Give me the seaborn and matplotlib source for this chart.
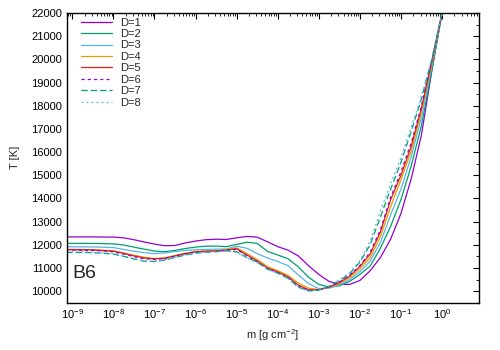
import numpy as np
import pandas as pd
import matplotlib
matplotlib.use("Agg")
import matplotlib.pyplot as plt
from matplotlib.ticker import FixedLocator, LogLocator, MultipleLocator, NullFormatter
import seaborn as sns

# log10 of column mass m [g cm^-2]
log_m = [-9.15, -8.5, -8.0, -7.75, -7.5, -7.25, -7.0, -6.75, -6.5, -6.25, -6.0,
         -5.75, -5.5, -5.25, -5.0, -4.75, -4.5, -4.25, -4.0, -3.75, -3.5, -3.25,
         -3.0, -2.75, -2.5, -2.25, -2.0, -1.75, -1.5, -1.25, -1.0, -0.75, -0.5,
         -0.25, 0.0, 0.1]

T_D1 = [12340, 12340, 12330, 12300, 12220, 12120, 12030, 11960, 11970, 12080, 12160,
        12220, 12240, 12230, 12300, 12360, 12330, 12130, 11920, 11770, 11520, 11100,
        10720, 10420, 10300, 10290, 10460, 10880, 11450, 12250, 13350, 14850, 16750,
        19500, 22000, 23000]
T_D2 = [12060, 12060, 12040, 11990, 11900, 11810, 11730, 11700, 11760, 11840, 11900,
        11940, 11945, 11920, 12020, 12110, 12060, 11720, 11560, 11400, 11050, 10600,
        10290, 10180, 10230, 10420, 10720, 11080, 11850, 12800, 13950, 15400, 17150,
        19500, 22000, 23000]
T_D3 = [11915, 11910, 11880, 11800, 11720, 11660, 11620, 11650, 11710, 11760, 11780,
        11800, 11810, 11820, 11940, 11850, 11620, 11430, 11280, 11100, 10700, 10330,
        10110, 10130, 10260, 10500, 10840, 11300, 12100, 13300, 14400, 15800, 17500,
        19700, 22000, 23000]
T_D4 = [11800, 11790, 11740, 11650, 11550, 11460, 11410, 11440, 11540, 11640, 11710,
        11740, 11750, 11790, 11870, 11620, 11370, 11060, 10880, 10680, 10350, 10130,
        10070, 10160, 10320, 10580, 10960, 11450, 12350, 13650, 14800, 16050, 17750,
        19800, 22000, 23000]
T_D5 = [11790, 11780, 11720, 11630, 11520, 11430, 11390, 11420, 11520, 11620, 11690,
        11720, 11730, 11770, 11830, 11560, 11300, 11000, 10830, 10620, 10260, 10060,
        10060, 10180, 10370, 10650, 11060, 11600, 12550, 13950, 15000, 16250, 17900,
        19900, 22000, 23000]
T_D6 = [11770, 11760, 11700, 11600, 11490, 11400, 11370, 11410, 11510, 11610, 11680,
        11710, 11720, 11760, 11800, 11530, 11270, 10980, 10800, 10590, 10230, 10040,
        10050, 10190, 10390, 10680, 11100, 11680, 12650, 14050, 15150, 16400, 18000,
        19950, 22000, 23000]
T_D7 = [11670, 11660, 11600, 11500, 11390, 11290, 11280, 11340, 11450, 11560, 11640,
        11680, 11700, 11740, 11700, 11450, 11250, 10950, 10780, 10560, 10180, 10010,
        10040, 10210, 10450, 10750, 11250, 12000, 13200, 14400, 15550, 16900, 18300,
        20000, 22000, 23000]
T_D8 = [11700, 11690, 11630, 11530, 11410, 11310, 11290, 11350, 11460, 11570, 11650,
        11690, 11700, 11730, 11680, 11430, 11230, 10940, 10760, 10540, 10160, 10000,
        10040, 10220, 10480, 10800, 11320, 12150, 13450, 14650, 15750, 17100, 18400,
        20000, 22000, 23000]

labels = ["D=1", "D=2", "D=3", "D=4", "D=5", "D=6", "D=7", "D=8"]
series = [T_D1, T_D2, T_D3, T_D4, T_D5, T_D6, T_D7, T_D8]
x_decades = [-9, -8, -7, -6, -5, -4, -3, -2, -1, 0]

rows = []
for lab, T in zip(labels, series):
    for lm, t in zip(log_m, T):
        rows.append({"m": 10.0 ** lm, "T": t, "D": lab})
df = pd.DataFrame(rows)

colors = ["#9400d3", "#009e73", "#56b4e9", "#e69f00", "#e51e10",
          "#9400d3", "#009e73", "#56b4e9"]
palette = dict(zip(labels, colors))
dashes = {"D=1": "", "D=2": "", "D=3": "", "D=4": "", "D=5": "",
          "D=6": (2.5, 2.5), "D=7": (5, 2.5), "D=8": (1.5, 2.5)}

sns.set_theme(style="white")
plt.rcParams["font.family"] = ["Liberation Sans", "DejaVu Sans"]
plt.rcParams["mathtext.fontset"] = "custom"
plt.rcParams["mathtext.rm"] = "Liberation Sans"
plt.rcParams["mathtext.it"] = "Liberation Sans:italic"

fig = plt.figure(figsize=(5, 3.5), dpi=100)
ax = fig.add_axes([0.134, 0.135, 0.824, 0.828])

sns.lineplot(data=df, x="m", y="T", hue="D", style="D", palette=palette,
             dashes=dashes, sort=False, linewidth=0.9, ax=ax)

ax.set_xscale("log")
ax.set_xlim(10 ** -9.13, 10 ** 0.9)
ax.set_ylim(9500, 22000)

ax.xaxis.set_major_locator(FixedLocator([10.0 ** d for d in x_decades]))
ax.xaxis.set_minor_locator(LogLocator(base=10, subs=np.arange(2, 10), numticks=20))
ax.xaxis.set_minor_formatter(NullFormatter())
ax.yaxis.set_major_locator(MultipleLocator(1000))
ax.yaxis.set_minor_locator(MultipleLocator(500))

ax.tick_params(which="both", direction="in", top=True, right=True,
               labelsize=8, colors="black")
ax.tick_params(which="major", length=4.5, width=0.8)
ax.tick_params(which="minor", length=2.2, width=0.6)
for s in ax.spines.values():
    s.set_color("black")
    s.set_linewidth(1.0)

ax.set_xlabel("m [g cm$^{-2}$]", fontsize=8, labelpad=4)
ax.set_ylabel("T [K]", fontsize=8, labelpad=8)

ax.text(0.013, 0.1, "B6", transform=ax.transAxes, fontsize=14,
        ha="left", va="center")

leg = ax.legend(loc="upper left", frameon=False, fontsize=8,
                handlelength=2.8, handletextpad=0.72, labelspacing=0.13,
                borderaxespad=0.0, borderpad=0.0,
                bbox_to_anchor=(0.034, 0.984))

fig.savefig("out.png", dpi=100)
